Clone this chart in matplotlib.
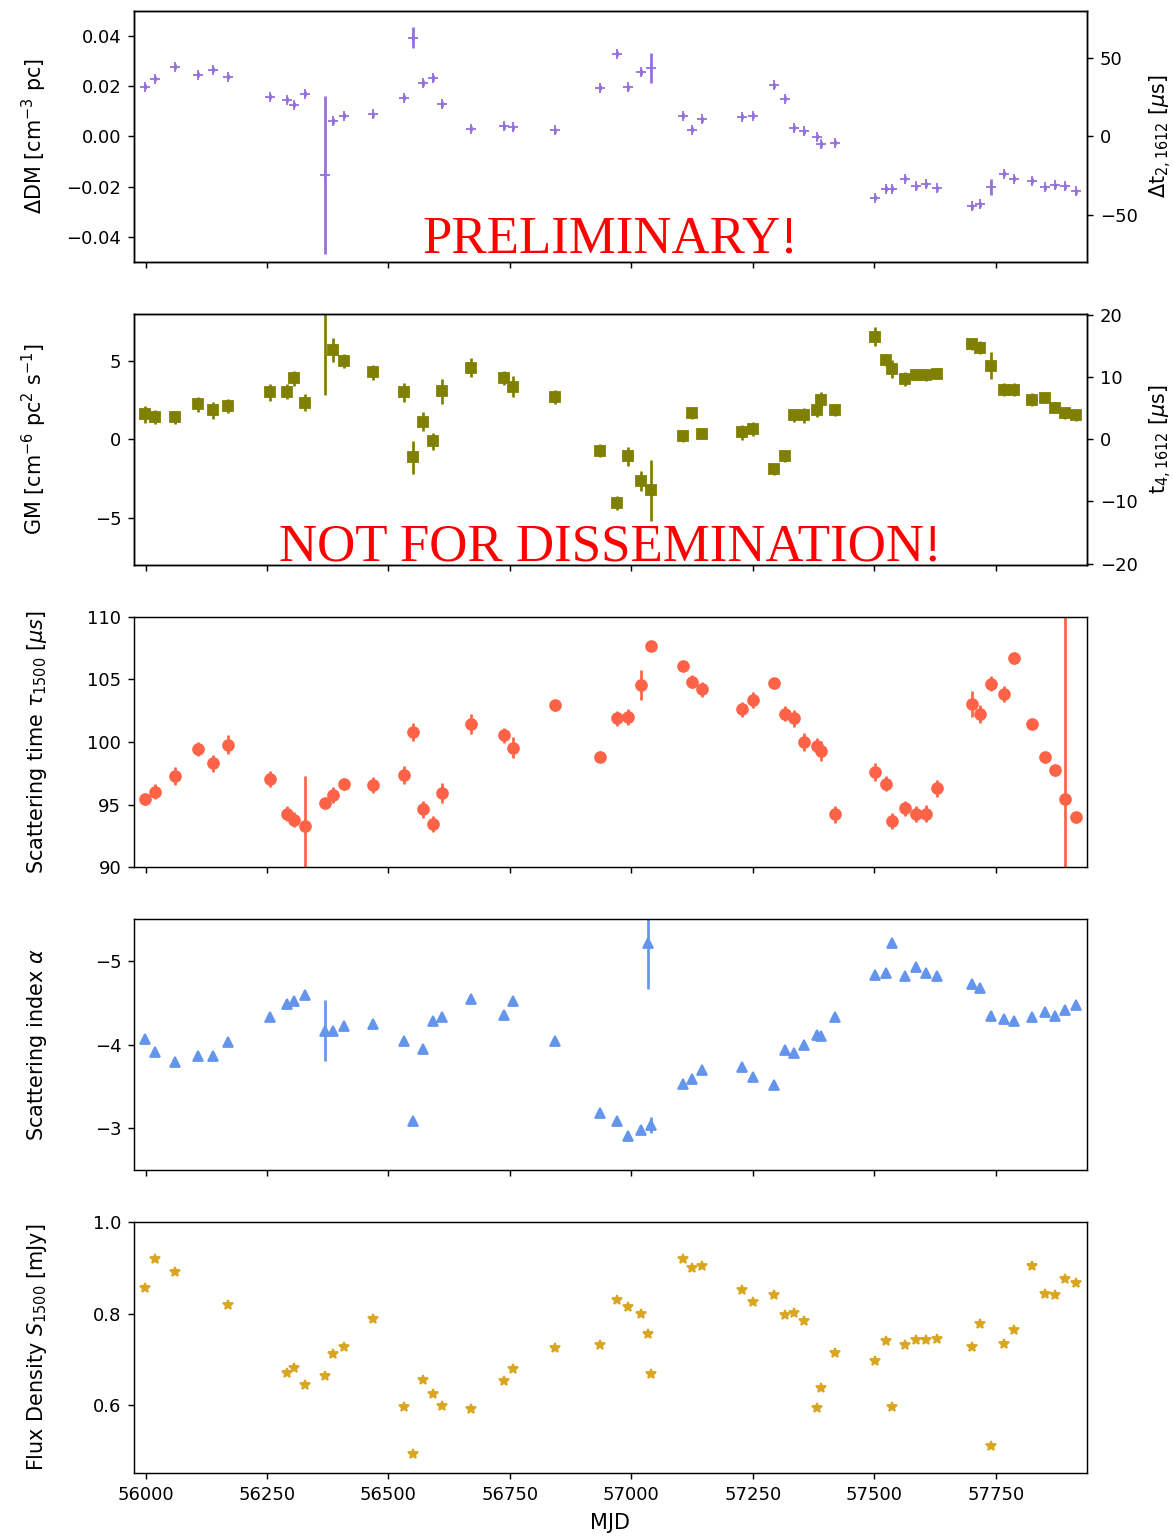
import numpy as np
import matplotlib
matplotlib.use("Agg")
import matplotlib.pyplot as plt

nan = np.nan

# Observation epochs (MJD)
mjd = np.array([
    55998.6, 56019.8, 56059.7, 56108.3, 56138.6, 56168.8, 56256.5, 56291.5,
    56306.0, 56328.0, 56369.2, 56385.6, 56408.9, 56468.6, 56531.2, 56550.3,
    56570.3, 56592.1, 56610.7, 56669.1, 56738.3, 56755.6, 56842.7, 56934.7,
    56970.4, 56992.4, 57020.4, 57034.8, 57041.0, 57106.9, 57124.8, 57145.4,
    57228.3, 57250.4, 57293.0, 57316.9, 57334.2, 57356.0, 57381.5, 57389.8,
    57418.6, 57502.2, 57523.6, 57537.2, 57564.0, 57586.0, 57607.2, 57628.6,
    57701.3, 57718.4, 57739.8, 57767.8, 57788.4, 57824.2, 57852.2, 57871.5,
    57893.4, 57914.8])

# Dispersion measure variations [cm^-3 pc]
dm = np.array([
    0.0198, 0.0230, 0.0277, 0.0246, 0.0265, 0.0238, 0.0159, 0.0146,
    0.0127, 0.0171, -0.0155, 0.0062, 0.0082, 0.0089, 0.0154, 0.0393,
    0.0212, 0.0234, 0.0131, 0.0031, 0.0041, 0.0036, 0.0025, 0.0194,
    0.0329, 0.0197, 0.0258, nan, 0.0274, 0.0083, 0.0027, 0.0069,
    0.0078, 0.0083, 0.0205, 0.0150, 0.0035, 0.0021, -0.0001, -0.0030,
    -0.0025, -0.0245, -0.0208, -0.0208, -0.0169, -0.0198, -0.0190, -0.0206,
    -0.0278, -0.0270, -0.0202, -0.0148, -0.0168, -0.0176, -0.0202, -0.0194,
    -0.0198, -0.0218])
dm_err = np.array([
    0.0010, 0.0010, 0.0010, 0.0010, 0.0010, 0.0010, 0.0010, 0.0010,
    0.0010, 0.0010, 0.0315, 0.0012, 0.0010, 0.0010, 0.0010, 0.0042,
    0.0012, 0.0012, 0.0012, 0.0010, 0.0010, 0.0010, 0.0010, 0.0010,
    0.0010, 0.0010, 0.0012, nan, 0.0060, 0.0010, 0.0010, 0.0010,
    0.0010, 0.0010, 0.0010, 0.0010, 0.0010, 0.0010, 0.0010, 0.0012,
    0.0010, 0.0010, 0.0010, 0.0010, 0.0010, 0.0010, 0.0010, 0.0010,
    0.0010, 0.0010, 0.0031, 0.0010, 0.0010, 0.0010, 0.0010, 0.0010,
    0.0010, 0.0010])

# Fourth-order (GM) term [cm^-6 pc^2 s^-1]
gm = np.array([
    1.58, 1.44, 1.39, 2.23, 1.84, 2.13, 2.99, 3.04,
    3.88, 2.34, 12.0, 5.68, 5.00, 4.26, 2.99, -1.16,
    1.12, -0.13, 3.06, 4.56, 3.92, 3.34, 2.70, -0.72,
    -4.09, -1.10, -2.66, nan, -3.27, 0.19, 1.67, 0.36,
    0.44, 0.68, -1.90, -1.08, 1.52, 1.52, 1.84, 2.49,
    1.86, 6.54, 5.06, 4.49, 3.84, 4.11, 4.07, 4.18,
    6.06, 5.84, 4.70, 3.16, 3.16, 2.53, 2.66, 2.00,
    1.67, 1.52])
gm_err = np.array([
    0.53, 0.45, 0.40, 0.49, 0.55, 0.45, 0.55, 0.50,
    0.47, 0.54, 9.20, 0.77, 0.44, 0.50, 0.61, 1.03,
    0.62, 0.54, 0.79, 0.62, 0.46, 0.66, 0.46, 0.40,
    0.44, 0.60, 0.63, nan, 1.92, 0.35, 0.35, 0.35,
    0.48, 0.45, 0.35, 0.35, 0.40, 0.46, 0.44, 0.50,
    0.35, 0.61, 0.40, 0.58, 0.44, 0.35, 0.35, 0.35,
    0.35, 0.40, 0.85, 0.40, 0.40, 0.44, 0.35, 0.35,
    0.35, 0.35])

# Scattering time at 1500 MHz [us]
tau = np.array([
    95.42, 96.04, 97.27, 99.44, 98.31, 99.79, 97.03, 94.29,
    93.81, 93.28, 95.15, 95.77, 96.66, 96.58, 97.40, 100.76,
    94.65, 93.49, 95.90, 101.42, 100.54, 99.55, 102.93, 98.83,
    101.88, 101.99, 104.53, nan, 107.67, 106.06, 104.82, 104.21,
    102.60, 103.33, 104.72, 102.25, 101.88, 100.00, 99.71, 99.25,
    94.24, 97.62, 96.68, 93.71, 94.73, 94.24, 94.29, 96.30,
    103.01, 102.25, 104.66, 103.86, 106.70, 101.45, 98.77, 97.73,
    95.47, 94.00])
tau_err = np.array([
    0.45, 0.59, 0.70, 0.58, 0.67, 0.75, 0.64, 0.62,
    0.60, 4.00, 0.40, 0.62, 0.50, 0.64, 0.71, 0.72,
    0.67, 0.64, 0.80, 0.79, 0.58, 0.82, 0.45, 0.45,
    0.63, 0.63, 1.18, nan, 0.40, 0.40, 0.52, 0.59,
    0.62, 0.63, 0.40, 0.60, 0.67, 0.74, 0.60, 0.80,
    0.66, 0.70, 0.62, 0.62, 0.60, 0.63, 0.67, 0.71,
    1.05, 0.70, 0.63, 0.64, 0.45, 0.40, 0.45, 0.45,
    20.0, 0.45])

# Scattering index
alpha = np.array([
    -4.07, -3.91, -3.80, -3.86, -3.86, -4.03, -4.33, -4.49,
    -4.52, -4.60, -4.17, -4.16, -4.22, -4.25, -4.05, -3.09,
    -3.95, -4.28, -4.33, -4.55, -4.36, -4.52, -4.04, -3.19,
    -3.09, -2.91, -2.98, -5.22, -3.04, -3.53, -3.59, -3.70,
    -3.73, -3.62, -3.52, -3.94, -3.90, -4.00, -4.12, -4.10,
    -4.33, -4.83, -4.86, -5.22, -4.82, -4.93, -4.86, -4.82,
    -4.73, -4.68, -4.35, -4.31, -4.28, -4.33, -4.39, -4.35,
    -4.41, -4.47])
alpha_err = np.array([
    0.03, 0.03, 0.03, 0.03, 0.03, 0.03, 0.03, 0.03,
    0.03, 0.03, 0.36, 0.03, 0.03, 0.03, 0.03, 0.03,
    0.03, 0.03, 0.03, 0.03, 0.03, 0.03, 0.03, 0.03,
    0.03, 0.03, 0.03, 0.55, 0.10, 0.03, 0.03, 0.03,
    0.03, 0.03, 0.03, 0.03, 0.03, 0.03, 0.03, 0.03,
    0.03, 0.03, 0.03, 0.03, 0.03, 0.03, 0.03, 0.03,
    0.03, 0.03, 0.05, 0.03, 0.03, 0.03, 0.03, 0.03,
    0.03, 0.03])

# Flux density at 1500 MHz [mJy]
flux = np.array([
    0.855, 0.920, 0.892, nan, nan, 0.818, nan, 0.671,
    0.682, 0.645, 0.664, 0.713, 0.727, 0.789, 0.596, 0.493,
    0.656, 0.624, 0.599, 0.591, 0.654, 0.680, 0.726, 0.731,
    0.829, 0.815, 0.799, 0.755, 0.669, 0.919, 0.900, 0.905,
    0.851, 0.825, 0.841, 0.798, 0.802, 0.784, 0.595, 0.638,
    0.714, 0.696, 0.740, 0.597, 0.732, 0.743, 0.743, 0.745,
    0.728, 0.777, 0.512, 0.734, 0.765, 0.904, 0.842, 0.840,
    0.876, 0.867])

# Conversion factors to delays at 1612 MHz
DT2_PER_DM = 1.0 / (2.41e-4 * 1.612 ** 2)   # us per (cm^-3 pc)
T4_PER_GM = 2.52                             # us per (cm^-6 pc^2 s^-1)

DPI = 130
LABEL_SIZE = 11.5
plt.rcParams["axes.labelsize"] = LABEL_SIZE

fig = plt.figure(figsize=(1173 / DPI, 1538 / DPI), dpi=DPI)
axes = fig.subplots(5, 1, sharex=True)
fig.subplots_adjust(left=0.1142, right=0.9267, top=0.99285, bottom=0.04226,
                    hspace=0.2068)
ax_dm, ax_gm, ax_tau, ax_alpha, ax_flux = axes

stamp = dict(ha="center", va="baseline", color="red", fontsize=29.3,
             family=["Liberation Serif", "DejaVu Serif"])
LEFT_PAD = 9.5
RIGHT_PAD = 5.5

# Dispersion measure
ax_dm.errorbar(mjd, dm, yerr=dm_err, fmt="+", color="mediumpurple")
ax_dm.set_ylim(-0.05, 0.05)
ax_dm.set_yticks([-0.04, -0.02, 0.0, 0.02, 0.04])
ax_dm.set_ylabel(r"$\Delta$DM [cm$^{-3}$ pc]", labelpad=LEFT_PAD)
ax_dm_r = ax_dm.twinx()
ax_dm_r.set_ylim(np.array(ax_dm.get_ylim()) * DT2_PER_DM)
ax_dm_r.set_yticks([-50, 0, 50])
ax_dm_r.set_ylabel(r"$\Delta$t$_{2,1612}$ [$\mu$s]", labelpad=RIGHT_PAD)
ax_dm.text(0.5, 0.039, "PRELIMINARY!", transform=ax_dm.transAxes, **stamp)

# GM term
ax_gm.errorbar(mjd, gm, yerr=gm_err, fmt="s", color="olive")
ax_gm.set_ylim(-8, 8)
ax_gm.set_yticks([-5, 0, 5])
ax_gm.set_ylabel(r"GM [cm$^{-6}$ pc$^2$ s$^{-1}$]", labelpad=LEFT_PAD)
ax_gm_r = ax_gm.twinx()
ax_gm_r.set_ylim(np.array(ax_gm.get_ylim()) * T4_PER_GM)
ax_gm_r.set_yticks([-20, -10, 0, 10, 20])
ax_gm_r.set_ylabel(r"t$_{4,1612}$ [$\mu$s]", labelpad=RIGHT_PAD)
ax_gm.text(0.5, 0.017, "NOT FOR DISSEMINATION!", transform=ax_gm.transAxes,
           **stamp)

# Scattering time
ax_tau.errorbar(mjd, tau, yerr=tau_err, fmt="o", color="tomato")
ax_tau.set_ylim(90, 110)
ax_tau.set_yticks([90, 95, 100, 105, 110])
ax_tau.set_ylabel(r"Scattering time $\tau_{1500}$ [$\mu s$]", labelpad=LEFT_PAD)

# Scattering index (more negative upwards)
ax_alpha.errorbar(mjd, alpha, yerr=alpha_err, fmt="^", color="cornflowerblue")
ax_alpha.set_ylim(-2.5, -5.5)
ax_alpha.set_yticks([-5, -4, -3])
ax_alpha.set_ylabel(r"Scattering index $\alpha$", labelpad=LEFT_PAD)

# Flux density
ax_flux.plot(mjd, flux, "*", color="goldenrod")
ax_flux.set_ylim(0.452, 1.0)
ax_flux.set_yticks([0.6, 0.8, 1.0])
ax_flux.set_ylabel(r"Flux Density $S_{1500}$ [mJy]", labelpad=LEFT_PAD)

ax_flux.set_xlim(55976, 57938)
ax_flux.set_xticks([56000, 56250, 56500, 56750, 57000, 57250, 57500, 57750])
ax_flux.set_xlabel("MJD", labelpad=5)

fig.align_ylabels(list(axes))

fig.savefig("out.png", dpi=DPI)
